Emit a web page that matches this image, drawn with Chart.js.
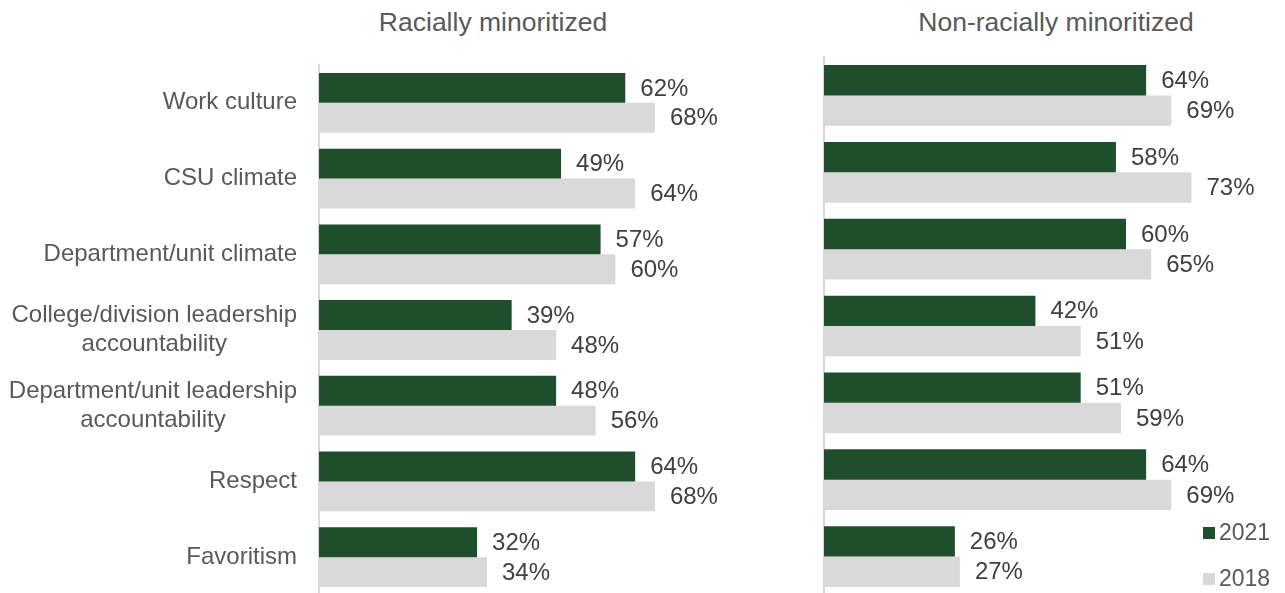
<!DOCTYPE html>
<html>
<head>
<meta charset="utf-8">
<script src="https://cdn.jsdelivr.net/npm/chart.js@4"></script>
<style>
  body { margin: 0; width: 1285px; height: 593px; overflow: hidden; background: #fff;
         font-family: "Liberation Sans", Arial, sans-serif; position: relative; }
  canvas { position: absolute; top: 0; }
  .titulo { position: absolute; top: 7px; font-size: 26.5px; color: #595959; transform: translateX(-50%); white-space: nowrap; }
  .leyenda { position: absolute; left: 1203px; font-size: 23px; color: #595959; line-height: 26px; }
  .leyenda span { display: inline-block; width: 12px; height: 12px; margin-right: 4px; vertical-align: 1px; }
</style>
</head>
<body>
<div class="titulo" style="left:493px">Racially minoritized</div>
<div class="titulo" style="left:1056px">Non-racially minoritized</div>
<canvas id="graficoRacial" width="820" height="600" style="left:0"></canvas>
<canvas id="graficoNoRacial" width="465" height="600" style="left:820px"></canvas>
<div class="leyenda" style="top:519px"><span style="background:#1F4E2C"></span>2021</div>
<div class="leyenda" style="top:565px"><span style="background:#D9D9D9"></span>2018</div>

<script>
    const categorias = [
        "Work culture",
        "CSU climate",
        "Department/unit climate",
        ["College/division leadership", "accountability"],
        ["Department/unit leadership", "accountability"],
        "Respect",
        "Favoritism"
    ];
    const anios = ["2021", "2018"];
    const racial2021 = [62, 49, 57, 39, 48, 64, 32];
    const racial2018 = [68, 64, 60, 48, 56, 68, 34];
    const noRacial2021 = [64, 58, 60, 42, 51, 64, 26];
    const noRacial2018 = [69, 73, 65, 51, 59, 69, 27];

    const verde = "#1F4E2C";
    const gris = "#D9D9D9";
    const fuente = "'Liberation Sans', Arial, sans-serif";

    // escribe el porcentaje al final de cada barra
    const etiquetas = {
        id: "etiquetas",
        afterDatasetsDraw(chart) {
            const ctx = chart.ctx;
            ctx.save();
            ctx.font = "24px " + fuente;
            ctx.fillStyle = "#404040";
            ctx.textBaseline = "middle";
            ctx.textAlign = "left";
            chart.data.datasets.forEach((ds, i) => {
                chart.getDatasetMeta(i).data.forEach((bar, j) => {
                    ctx.fillText(ds.data[j] + "%", bar.x + 15, bar.y + 1);
                });
            });
            ctx.restore();
        }
    };

    // nombres de categoria: bloque alineado a la derecha, lineas centradas entre si
    const categoriasEje = {
        id: "categoriasEje",
        afterDraw(chart) {
            const ctx = chart.ctx;
            const eje = chart.scales.y;
            const derecha = eje.right - 22;
            const alto = 29;
            ctx.save();
            ctx.font = "24px " + fuente;
            ctx.fillStyle = "#595959";
            ctx.textBaseline = "middle";
            ctx.textAlign = "center";
            chart.data.labels.forEach((lab, i) => {
                const lineas = Array.isArray(lab) ? lab : [lab];
                const ancho = Math.max(...lineas.map(l => ctx.measureText(l).width));
                const cx = derecha - ancho / 2;
                const y0 = eje.getPixelForValue(i) - (lineas.length - 1) * alto / 2;
                lineas.forEach((l, k) => ctx.fillText(l, cx, y0 + k * alto));
            });
            ctx.restore();
        }
    };

    function crearGrafico(id, d2021, d2018, conEtiquetas, maximo, padding, anchoEje) {
        return new Chart(document.getElementById(id).getContext("2d"), {
            type: "bar",
            data: {
                labels: categorias,
                datasets: [
                    { label: anios[0], data: d2021, backgroundColor: verde },
                    { label: anios[1], data: d2018, backgroundColor: gris }
                ]
            },
            options: {
                indexAxis: "y",
                responsive: false,
                animation: false,
                devicePixelRatio: 1,
                layout: { padding: padding },
                datasets: { bar: { categoryPercentage: 0.79, barPercentage: 1 } },
                plugins: { legend: { display: false }, tooltip: { enabled: false } },
                scales: {
                    x: { display: false, min: 0, max: maximo },
                    y: {
                        grid: { display: false },
                        border: { color: gris, width: 2 },
                        ticks: { display: false },
                        afterFit(eje) {
                            eje.width = anchoEje;
                            eje.paddingTop = 0;
                            eje.paddingBottom = 0;
                        }
                    }
                }
            },
            plugins: conEtiquetas ? [etiquetas, categoriasEje] : [etiquetas]
        });
    }

    crearGrafico("graficoRacial", racial2021, racial2018, true, 100,
        { top: 65, bottom: 5, right: 7, left: 0 }, 319);
    crearGrafico("graficoNoRacial", noRacial2021, noRacial2018, false, 90,
        { top: 57, bottom: 5, right: 8, left: 0 }, 4);
</script>
</body>
</html>
